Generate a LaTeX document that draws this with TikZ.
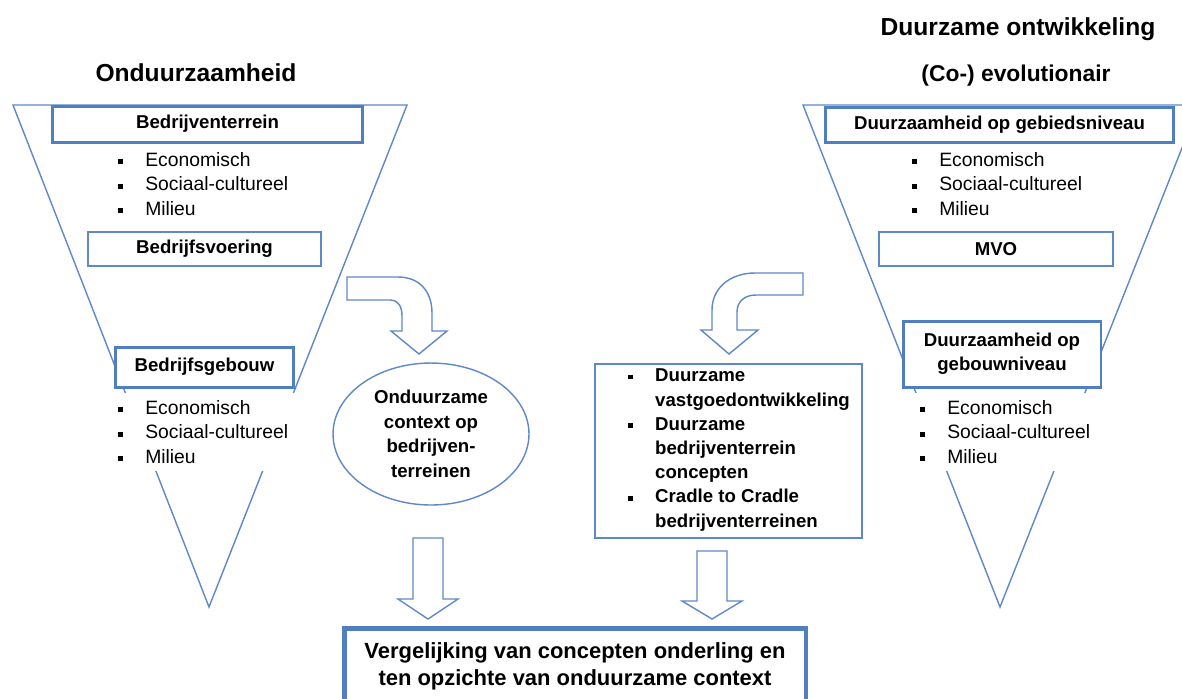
\documentclass[tikz,border=0pt]{standalone}
\usepackage{fontspec}
\setmainfont{Liberation Sans}
\usetikzlibrary{shapes.geometric}

\definecolor{lijn}{HTML}{5E88C8}
\definecolor{rand}{HTML}{4F7FC0}

\newcommand{\blt}{\rule[1.3pt]{2.8pt}{2.8pt}\hspace{12.5pt}}
\newcommand{\inspring}{\hspace*{15.3pt}}

\begin{document}
\begin{tikzpicture}[x=0.02cm,y=-0.02cm,
  trechter/.style={draw=lijn,line width=0.8pt},
  dunvak/.style={draw=lijn,line width=0.8pt,fill=white,inner sep=0pt,font=\fontsize{10.6}{13.5}\selectfont\bfseries},
  dikvak/.style={draw=rand,line width=1.7pt,fill=white,inner sep=0pt,align=center,font=\fontsize{10.6}{13.5}\selectfont\bfseries},
  lijst/.style={fill=white,inner sep=4pt,align=left,anchor=west,font=\fontsize{11}{14}\selectfont},
  titel/.style={font=\fontsize{14}{17}\selectfont\bfseries},
  blokpijl/.style={draw=lijn,line width=0.8pt,fill=white}]
\useasboundingbox (0,0) rectangle (1182,698);
\clip (0,0) rectangle (1182,698);

% titels
\node[titel] (ond) at (196,73) {Onduurzaamheid};
\node[titel] (duo) at (1018,29) {Duurzame ontwikkeling};
\node[titel,font=\fontsize{13}{16}\selectfont\bfseries] (coe) at (1016,76) {(Co-) evolutionair};

% trechters
\draw[trechter] (13,105) -- (407,105) -- (209,607) -- cycle;
\draw[trechter] (803,105) -- (1199,105) -- (1000,607) -- cycle;

% links: onduurzaam
\node[dikvak,minimum width=6.22cm,minimum height=0.72cm] (bt) at (207.5,124) {Bedrijventerrein};
\node[lijst] (l1) at (111,184) {\blt Economisch\\ \blt Sociaal-cultureel\\ \blt Milieu};
\node[dunvak,minimum width=4.66cm,minimum height=0.68cm] (bv) at (204.5,249) {Bedrijfsvoering};
\node[dikvak,minimum width=3.58cm,minimum height=0.8cm] (bg) at (204.5,367) {Bedrijfsgebouw};
\node[lijst] (l2) at (111,432) {\blt Economisch\\ \blt Sociaal-cultureel\\ \blt Milieu};

% rechts: duurzaam
\node[dikvak,minimum width=6.98cm,minimum height=0.7cm] (dg) at (999.5,124.5) {Duurzaamheid op gebiedsniveau};
\node[lijst] (r1) at (905,184) {\blt Economisch\\ \blt Sociaal-cultureel\\ \blt Milieu};
\node[dunvak,minimum width=4.68cm,minimum height=0.68cm] (mvo) at (996,249) {MVO};
\node[dikvak,minimum width=3.96cm,minimum height=1.32cm] (dgb) at (1002,354) {Duurzaamheid op\\gebouwniveau};
\node[lijst] (r2) at (913,432) {\blt Economisch\\ \blt Sociaal-cultureel\\ \blt Milieu};

% midden
\node[ellipse,draw=lijn,line width=0.8pt,inner sep=0pt,minimum width=3.92cm,minimum height=2.84cm,align=center,font=\fontsize{10.6}{14}\selectfont\bfseries] (ctx) at (431,434) {Onduurzame\\context op\\bedrijven-\\terreinen};
\node[draw=lijn,line width=0.8pt,inner sep=0pt,minimum width=5.34cm,minimum height=3.48cm] (cb) at (728.5,451) {};
\node[anchor=west,align=left,inner sep=0pt,font=\fontsize{10.6}{13.8}\selectfont\bfseries] (cbt) at (628,450) {\blt Duurzame\\ \inspring vastgoedontwikkeling\\ \blt Duurzame\\ \inspring bedrijventerrein\\ \inspring concepten\\ \blt Cradle to Cradle\\ \inspring bedrijventerreinen};

% vergelijking
\node[draw=rand,line width=2.8pt,inner sep=0pt,minimum width=9.24cm,minimum height=2cm,anchor=north] (vgl) at (575,626) {};
\node[align=center,font=\fontsize{12.5}{15.4}\selectfont\bfseries] (vglt) at (575,666) {Vergelijking van concepten onderling en\\ten opzichte van onduurzame context};

% pijlen
\draw[blokpijl] (347,277) -- (398,277) .. controls (420,277) and (432,292) .. (432,313) -- (432,331) -- (447,331) -- (419,354) -- (391,331) -- (402,331) -- (402,316) .. controls (402,306) and (398,300) .. (390,300) -- (347,300) -- cycle;
\draw[blokpijl] (803,273) -- (755,273) .. controls (730,273) and (712,288) .. (712,310) -- (712,330) -- (701,330) -- (729,354) -- (758,330) -- (737,330) -- (737,312) .. controls (737,302) and (744,295) .. (756,295) -- (803,295) -- cycle;
\draw[blokpijl] (413,538) -- (443,538) -- (443,599) -- (458,599) -- (428,619) -- (398,599) -- (413,599) -- cycle;
\draw[blokpijl] (697,551) -- (727,551) -- (727,601) -- (742,601) -- (712,619) -- (682,601) -- (697,601) -- cycle;
\end{tikzpicture}
\end{document}
